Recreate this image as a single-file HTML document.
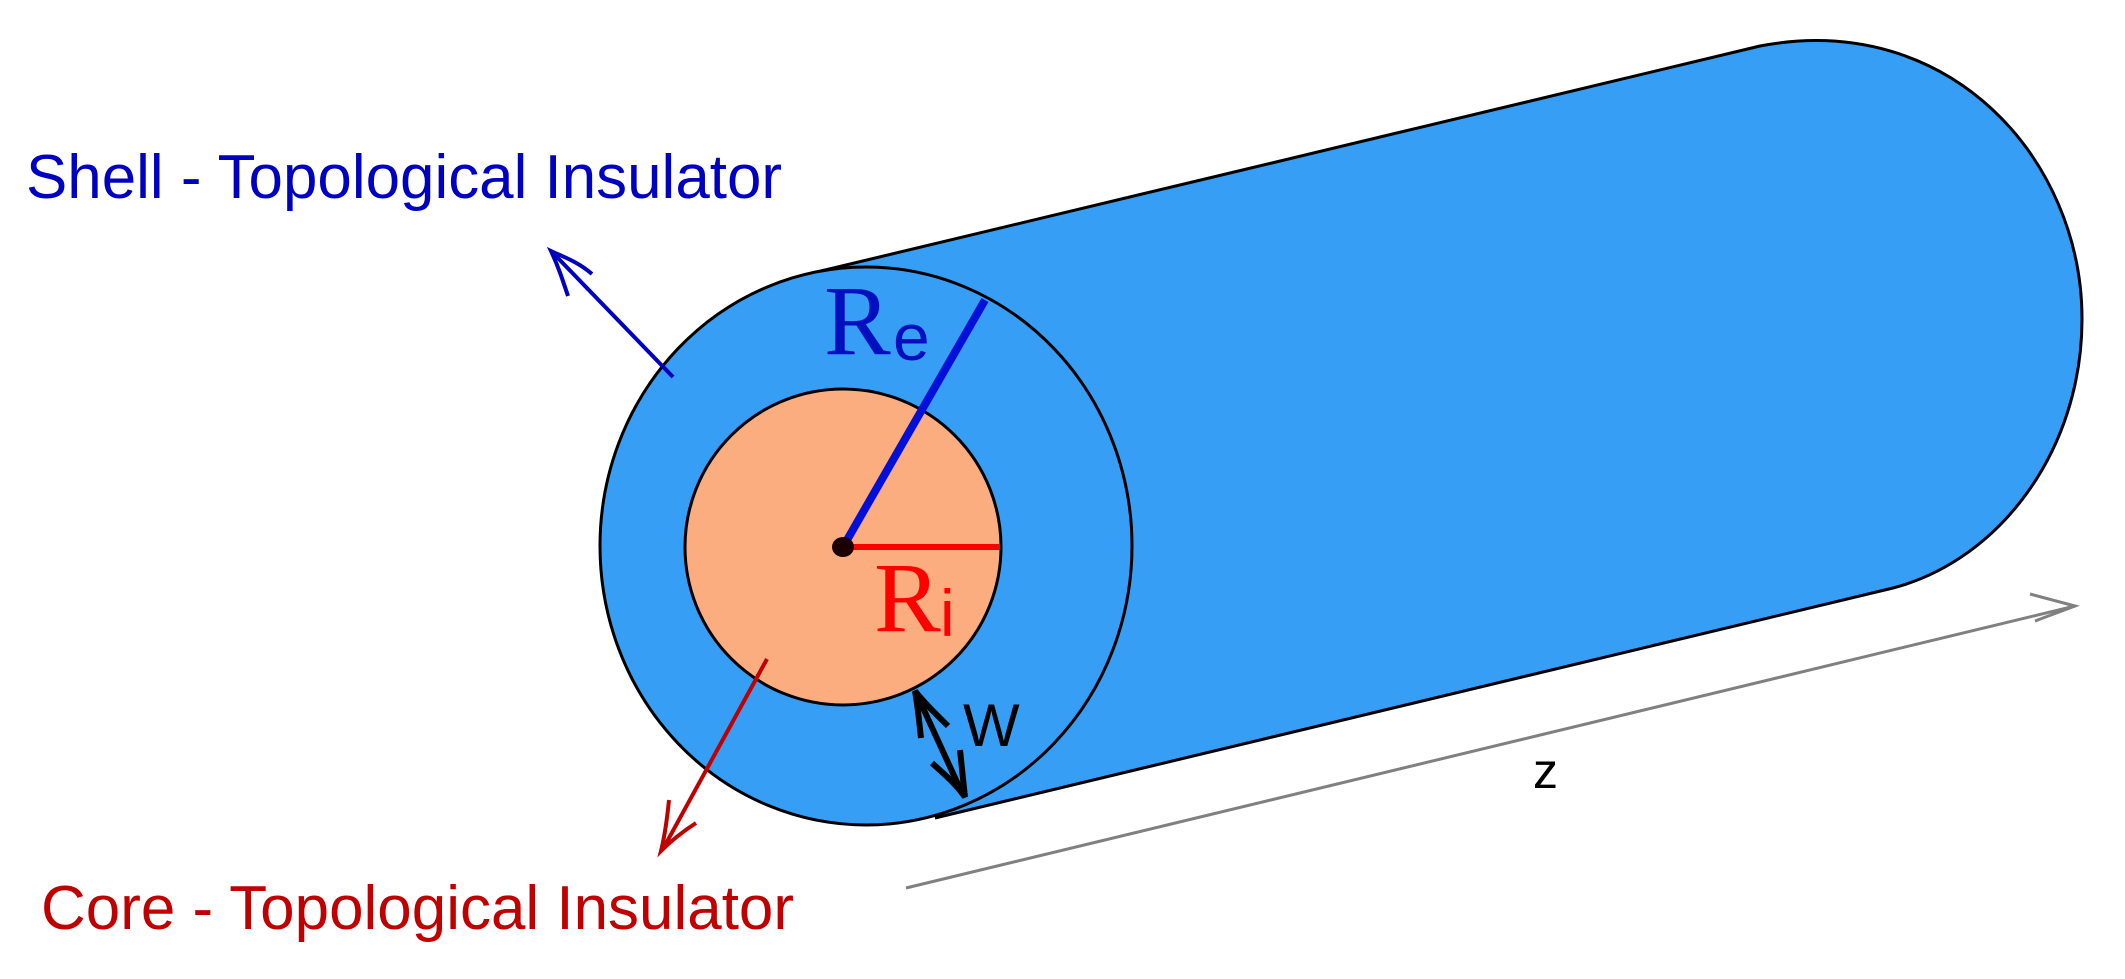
<!DOCTYPE html>
<html><head><meta charset="utf-8"><style>html,body{margin:0;padding:0;background:#fff;}svg{display:block}</style></head>
<body>
<svg width="2125" height="979" viewBox="0 0 2125 979" xmlns="http://www.w3.org/2000/svg">
<!-- cylinder body -->
<path d="M804,275 L1760,46 C1950,10 2082,160 2082,319 C2082,450 2000,560 1893,588 L940,817 L864,546 Z" fill="#379ef5" stroke="none"/>
<path d="M800,276 L1760,46 C1950,10 2082,160 2082,319 C2082,450 2000,560 1893,588 L935,818" fill="none" stroke="#000" stroke-width="3" stroke-linejoin="round"/>
<!-- front outer ellipse -->
<ellipse cx="866" cy="546" rx="266" ry="279" fill="#379ef5" stroke="#000" stroke-width="3"/>
<!-- inner core -->
<circle cx="843" cy="547" r="158" fill="#fbad80" stroke="#000" stroke-width="3"/>
<!-- radii -->
<line x1="843" y1="547" x2="985" y2="300" stroke="#0010d8" stroke-width="8"/>
<line x1="843" y1="547" x2="1000" y2="547" stroke="#ff0000" stroke-width="6"/>
<ellipse cx="843" cy="547" rx="11" ry="10" fill="#1a0000"/>
<!-- labels R -->
<text x="824" y="354" font-family="Liberation Serif, serif" font-size="100" fill="#0010c0">R</text>
<text x="893" y="360" font-family="Liberation Sans, sans-serif" font-size="66" fill="#0010c0">e</text>
<text x="874" y="631" font-family="Liberation Serif, serif" font-size="100" fill="#ff0000">R</text>
<text x="940" y="636" font-family="Liberation Sans, sans-serif" font-size="66" fill="#ff0000">i</text>
<!-- shell arrow -->
<line x1="673" y1="377" x2="554" y2="254" stroke="#0000c0" stroke-width="4"/>
<path d="M568,296 C562,278 558,266 551,251 C566,258 578,262 592,274" fill="none" stroke="#0000c0" stroke-width="4"/>
<!-- core arrow -->
<line x1="767" y1="659" x2="663" y2="849" stroke="#c00000" stroke-width="4"/>
<path d="M669,800 C667,820 665,835 661,851 C672,840 682,832 696,823" fill="none" stroke="#c00000" stroke-width="4"/>
<!-- W arrow -->
<line x1="918" y1="697" x2="962" y2="793" stroke="#000" stroke-width="6"/>
<path d="M921,738 C919,720 918,708 915,691 C926,705 935,713 948,726" fill="none" stroke="#000" stroke-width="6"/>
<path d="M960,750 C962,768 963,780 965,797 C955,783 945,775 932,763" fill="none" stroke="#000" stroke-width="6"/>
<text x="963" y="746" font-family="Liberation Sans, sans-serif" font-size="60" fill="#000">W</text>
<!-- z axis -->
<line x1="906" y1="888" x2="2075" y2="606" stroke="#808080" stroke-width="3"/>
<path d="M2030,594 L2075,606 L2035,621" fill="none" stroke="#808080" stroke-width="3"/>
<text x="1533" y="788" font-family="Liberation Sans, sans-serif" font-size="50" fill="#000">z</text>
<!-- titles -->
<text x="26" y="198" font-family="Liberation Sans, sans-serif" font-size="62" fill="#0000c0" textLength="756" lengthAdjust="spacingAndGlyphs">Shell - Topological Insulator</text>
<text x="41" y="929" font-family="Liberation Sans, sans-serif" font-size="62" fill="#c00000" textLength="753" lengthAdjust="spacingAndGlyphs">Core - Topological Insulator</text>
</svg>
</body></html>
